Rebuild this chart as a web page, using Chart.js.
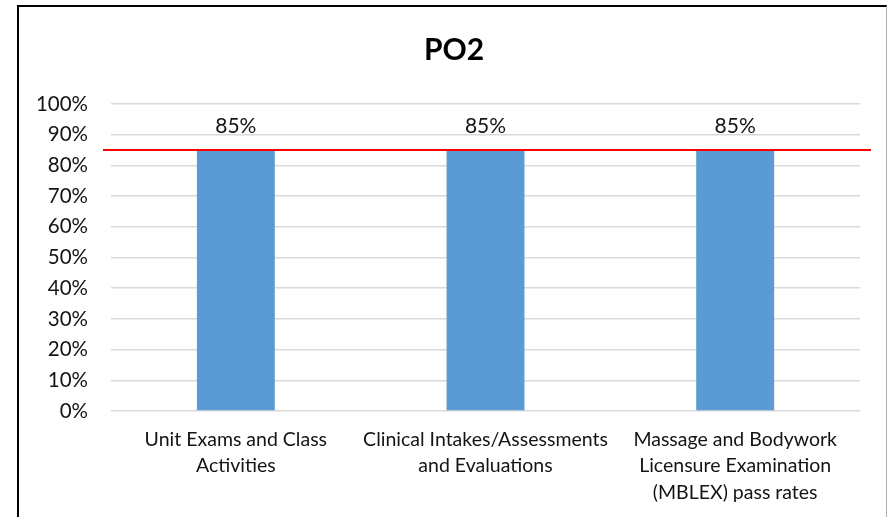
<!DOCTYPE html>
<html>
<head>
<meta charset="utf-8">
<script src="https://cdn.jsdelivr.net/npm/chart.js@4/dist/chart.umd.min.js"></script>
<style>
  html, body { margin: 0; padding: 0; background: #fff; }
  #wrap { position: relative; width: 889px; height: 517px; overflow: hidden; }
  #frame { position: absolute; left: 17px; top: 5px; width: 870px; height: 530px;
           border-left: 2px solid #000; border-top: 2px solid #000; border-right: 1px solid #b0b0b0; box-sizing: border-box; }
  canvas { position: absolute; left: 0; top: 0; }
</style>
</head>
<body>
<div id="wrap">
  <div id="frame"></div>
  <canvas id="c" width="889" height="517"></canvas>
</div>
<script>
const chartTitle = "PO2";
const categories = [
  ["Unit Exams and Class", "Activities"],
  ["Clinical Intakes/Assessments", "and Evaluations"],
  ["Massage and Bodywork", "Licensure Examination", "(MBLEX) pass rates"]
];
const seriesValues = [85, 85, 85];
const targetValue = [85];
const yTicks = [0, 10, 20, 30, 40, 50, 60, 70, 80, 90, 100];

const FONT = "Lato, 'Open Sans', sans-serif";
const TXT = "#141414";

const dataLabels = {
  id: 'dataLabels',
  afterDatasetsDraw(chart) {
    const ctx = chart.ctx;
    const meta = chart.getDatasetMeta(0);
    ctx.save();
    ctx.font = "21px " + FONT;
    ctx.fillStyle = TXT;
    ctx.textAlign = 'center';
    ctx.textBaseline = 'middle';
    meta.data.forEach((el, i) => {
      ctx.fillText(seriesValues[i] + '%', el.x, el.y - 24);
    });
    ctx.restore();
  }
};

const targetLine = {
  id: 'targetLine',
  afterDatasetsDraw(chart) {
    const ctx = chart.ctx;
    const y = chart.scales.y.getPixelForValue(targetValue[0]);
    const a = chart.chartArea;
    ctx.save();
    ctx.strokeStyle = '#ff0000';
    ctx.lineWidth = 2;
    ctx.beginPath();
    ctx.moveTo(a.left - 8, y);
    ctx.lineTo(a.right + 11, y);
    ctx.stroke();
    ctx.restore();
  }
};

new Chart(document.getElementById('c'), {
  type: 'bar',
  data: {
    labels: categories,
    datasets: [{
      data: seriesValues,
      backgroundColor: '#5b9bd5',
      borderWidth: 0,
      barPercentage: 0.312,
      categoryPercentage: 1
    }]
  },
  options: {
    responsive: false,
    animation: false,
    events: [],
    layout: { padding: { left: 19, right: 0, top: 5, bottom: 0 } },
    plugins: {
      legend: { display: false },
      tooltip: { enabled: false },
      title: {
        display: true,
        text: chartTitle,
        color: '#000',
        font: { family: FONT, size: 30, weight: 'bold', lineHeight: 1.2 },
        padding: { top: 27, bottom: 36 }
      }
    },
    scales: {
      x: {
        grid: { display: false, drawTicks: false },
        border: { display: false },
        ticks: {
          color: TXT,
          font: { family: FONT, size: 19.5, lineHeight: 1.36 },
          padding: 15,
          maxRotation: 0,
          autoSkip: false
        },
        afterFit(scale) { scale.height = 106; }
      },
      y: {
        min: 0,
        max: 100,
        afterBuildTicks(scale) { scale.ticks = yTicks.map(v => ({ value: v })); },
        grid: { color: '#d9d9d9', lineWidth: 1.5, drawTicks: false },
        border: { display: false },
        ticks: {
          color: TXT,
          font: { family: FONT, size: 20.5 },
          padding: 23,
          callback: v => v + '%'
        },
        afterFit(scale) { scale.width = 92; }
      },
      yRight: {
        position: 'right',
        display: true,
        min: 0,
        max: 100,
        grid: { display: false, drawTicks: false },
        border: { display: false },
        ticks: { display: false },
        afterFit(scale) { scale.width = 29; }
      }
    }
  },
  plugins: [dataLabels, targetLine]
});
</script>
</body>
</html>
